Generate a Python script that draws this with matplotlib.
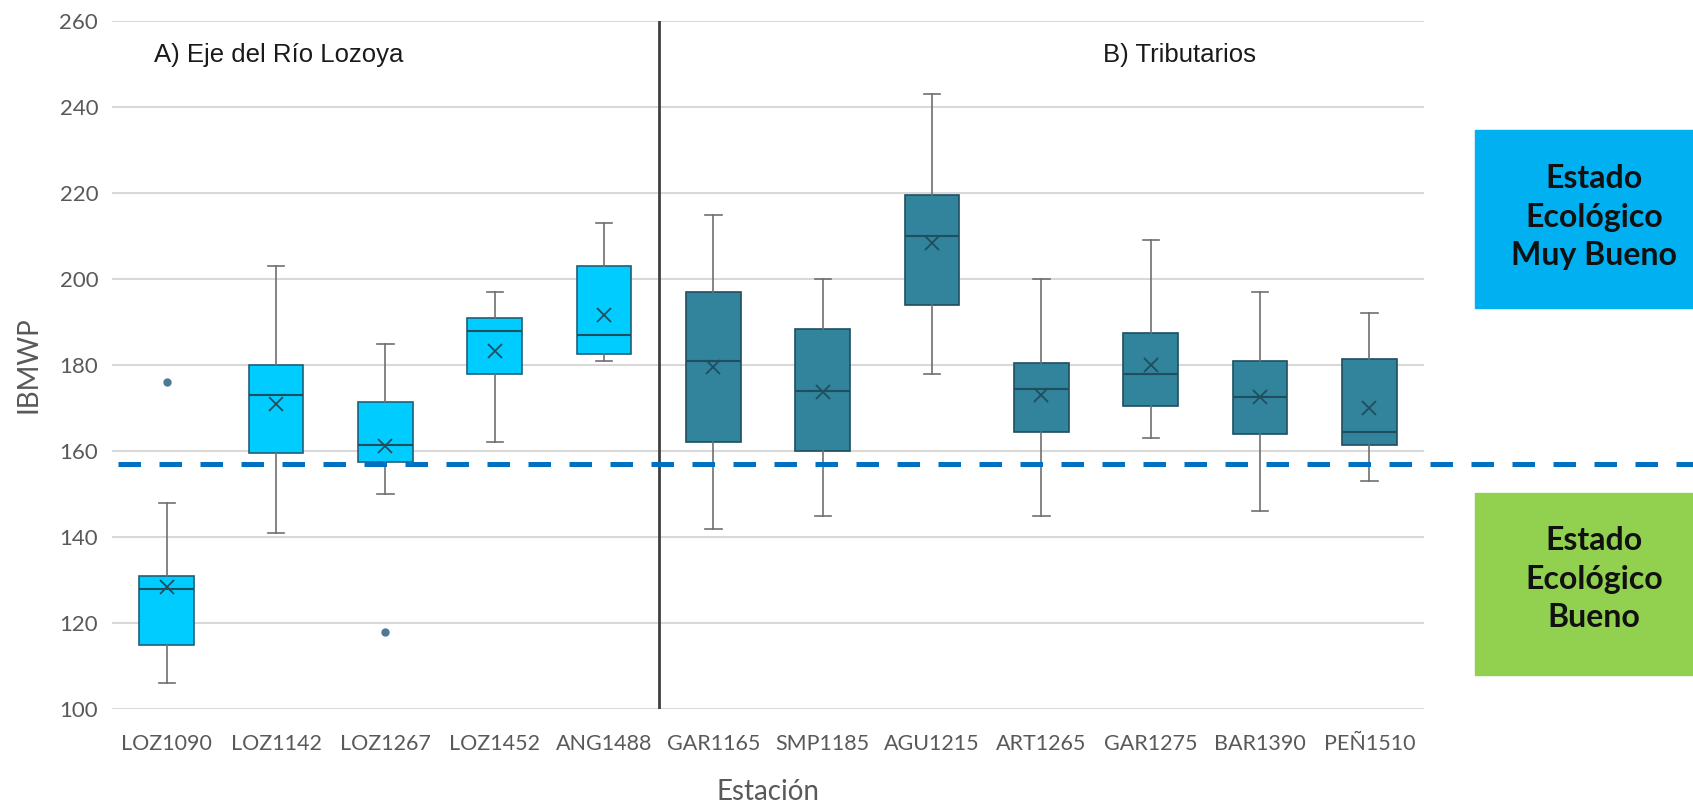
import matplotlib.pyplot as plt
from matplotlib.transforms import blended_transform_factory
from matplotlib.patches import Rectangle

# Datos
estaciones = ["LOZ1090", "LOZ1142", "LOZ1267", "LOZ1452", "ANG1488",
              "GAR1165", "SMP1185", "AGU1215", "ART1265", "GAR1275", "BAR1390", "PEÑ1510"]
grupo = ["A", "A", "A", "A", "A", "B", "B", "B", "B", "B", "B", "B"]
bigote_min = [106, 141, 150, 162, 181, 142, 145, 178, 145, 163, 146, 153]
q1 = [115, 159.5, 157.5, 178, 182.5, 162, 160, 194, 164.5, 170.5, 164, 161.5]
mediana = [128, 173, 161.5, 188, 187, 181, 174, 210, 174.5, 178, 172.5, 164.5]
q3 = [131, 180, 171.5, 191, 203, 197, 188.5, 219.5, 180.5, 187.5, 181, 181.5]
bigote_max = [148, 203, 185, 197, 213, 215, 200, 243, 200, 209, 197, 192]
media = [128.5, 171, 161.2, 183.3, 191.6, 179.5, 173.8, 208.3, 173, 180, 172.5, 170]
atipicos = [[176], [], [118], [], [], [], [], [], [], [], [], []]
umbral = 157

colores = {"A": "#00CCFF", "B": "#31849B"}

fig = plt.figure(figsize=(16.93, 8.05), dpi=100)
ax = fig.add_axes([0.0662, 0.119, 0.775, 0.855])

stats = []
for i in range(len(estaciones)):
    stats.append(dict(whislo=bigote_min[i], q1=q1[i], med=mediana[i], q3=q3[i],
                      whishi=bigote_max[i], mean=media[i], fliers=atipicos[i],
                      label=estaciones[i]))

bp = ax.bxp(stats, positions=range(len(estaciones)), widths=0.5, capwidths=0.15,
            patch_artist=True, showmeans=True, meanline=False,
            boxprops=dict(linewidth=1.2),
            whiskerprops=dict(color="#6F6F6F", linewidth=1.2),
            capprops=dict(color="#6F6F6F", linewidth=1.2),
            medianprops=dict(color="#1F4E5F", linewidth=1.5),
            meanprops=dict(marker="x", markersize=10, markeredgecolor="#1F4E5F",
                           markeredgewidth=1.3),
            flierprops=dict(marker="o", markersize=5, markerfacecolor="#4F7A94",
                            markeredgecolor="#4F7A94"))
for caja, g in zip(bp["boxes"], grupo):
    caja.set_facecolor(colores[g])
    caja.set_edgecolor("#1F5F78" if g == "A" else "#1F4E5F")

ax.set_xlim(-0.5, len(estaciones) - 0.5)
ax.set_ylim(100, 260)
ax.set_yticks(range(100, 261, 20))
ax.grid(axis="y", color="#D9D9D9", linewidth=1.5)
ax.set_axisbelow(True)
for s in ax.spines.values():
    s.set_visible(False)
ax.tick_params(length=0, colors="#595959")
ax.tick_params(axis="y", labelsize=16, pad=10)
ax.tick_params(axis="x", labelsize=15.5, pad=18)
for t in ax.get_xticklabels() + ax.get_yticklabels():
    t.set_family("Lato")

ax.set_ylabel("IBMWP", fontsize=20, color="#595959", family="Lato", labelpad=13)
ax.set_xlabel("Estación", fontsize=20, color="#595959", family="Lato", labelpad=18)

# separador entre grupos
ax.plot([4.5, 4.5], [100, 260], color="#404040", linewidth=2, zorder=3)

ax.text(-0.116, 252, "A) Eje del Río Lozoya", fontsize=18.5, family="Liberation Sans",
        color="#1A1A1A", va="center", ha="left")
ax.text(9.26, 252, "B) Tributarios", fontsize=18.5, family="Liberation Sans",
        color="#1A1A1A", va="center", ha="center")

# linea de umbral hasta el borde de la figura
tr = blended_transform_factory(fig.transFigure, ax.transData)
ax.plot([0.0697, 1.0], [umbral, umbral], transform=tr, clip_on=False,
        color="#0070C0", linewidth=3.6, dashes=(4.5, 3.7), dash_capstyle="butt", zorder=4)

# cuadros de estado ecologico
fig.patches.append(Rectangle((1475 / 1693, 1 - 308 / 805), 218 / 1693, 178 / 805,
                             transform=fig.transFigure, color="#00B0F0", zorder=0))
fig.patches.append(Rectangle((1475 / 1693, 1 - 675 / 805), 218 / 1693, 182 / 805,
                             transform=fig.transFigure, color="#92D050", zorder=0))
fig.text(1594 / 1693, 1 - 217 / 805, "Estado\nEcológico\nMuy Bueno", ha="center", va="center",
         fontsize=23, fontweight="bold", family="Lato", color="#111111", linespacing=1.4)
fig.text(1594 / 1693, 1 - 579 / 805, "Estado\nEcológico\nBueno", ha="center", va="center",
         fontsize=23, fontweight="bold", family="Lato", color="#111111", linespacing=1.4)

fig.savefig("out.png", dpi=100)
